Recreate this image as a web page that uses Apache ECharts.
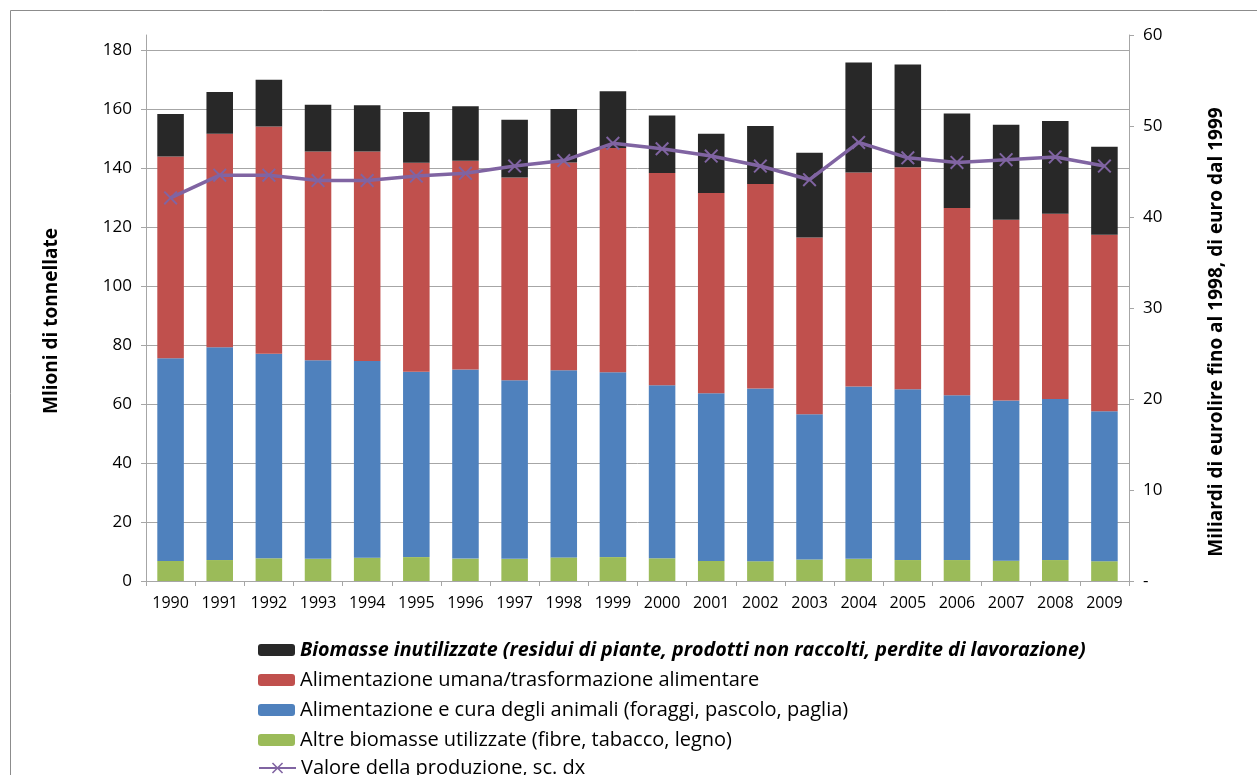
<!DOCTYPE html>
<html>
<head>
<meta charset="utf-8">
<script src="https://cdn.jsdelivr.net/npm/echarts@6/dist/echarts.min.js"></script>
<style>
  html, body { margin: 0; padding: 0; background: #fff; }
  #main { width: 1257px; height: 775px; }
</style>
</head>
<body>
<div id="main"></div>
<script>
// anni
var years = ['1990', '1991', '1992', '1993', '1994', '1995', '1996', '1997', '1998', '1999',
  '2000', '2001', '2002', '2003', '2004', '2005', '2006', '2007', '2008', '2009'];

// milioni di tonnellate, segmenti impilati
var altreBiomasse = [6.8, 7.1, 7.7, 7.5, 7.9, 8.1, 7.6, 7.5, 8.0, 8.1, 7.7, 6.8, 6.7, 7.3, 7.5, 7.1, 7.1, 6.9, 7.1, 6.7];
var animali = [68.7, 72.1, 69.3, 67.3, 66.6, 62.8, 64.1, 60.5, 63.4, 62.6, 58.6, 56.8, 58.5, 49.2, 58.4, 57.9, 55.8, 54.3, 54.6, 50.8];
var umana = [68.3, 72.3, 77.0, 70.7, 71.0, 70.8, 70.7, 68.7, 70.4, 76.0, 71.9, 67.9, 69.3, 59.9, 72.5, 75.2, 63.5, 61.2, 62.7, 59.8];
var inutilizzate = [14.4, 14.2, 15.8, 15.9, 15.7, 17.2, 18.5, 19.6, 18.1, 19.2, 19.5, 20.0, 19.7, 28.7, 37.3, 34.8, 32.0, 32.2, 31.5, 29.8];

// miliardi (scala destra)
var valoreProduzione = [42.1, 44.6, 44.6, 44.0, 44.0, 44.5, 44.8, 45.6, 46.2, 48.1, 47.5, 46.7, 45.6, 44.1, 48.2, 46.5, 46.0, 46.3, 46.6, 45.6];

var leftTicks = [0, 20, 40, 60, 80, 100, 120, 140, 160, 180];
var rightTicks = [0, 10, 20, 30, 40, 50, 60];

var names = [
  'Biomasse inutilizzate (residui di piante, prodotti non raccolti, perdite di lavorazione)',
  'Alimentazione umana/trasformazione alimentare',
  'Alimentazione e cura degli animali (foraggi, pascolo, paglia)',
  'Altre biomasse utilizzate (fibre, tabacco, legno)',
  'Valore della produzione, sc. dx'
];

var font = 'Open Sans';
var gridColor = '#a6a6a6';
var xMark = 'path://M0,1L1,0L5,4L9,0L10,1L6,5L10,9L9,10L5,6L1,10L0,9L4,5Z';

var chart = echarts.init(document.getElementById('main'), null, { renderer: 'canvas' });

var legendText = { fontFamily: font, fontSize: 20, color: '#000' };

var option = {
  backgroundColor: '#fff',
  animation: false,
  textStyle: { fontFamily: font },
  graphic: [
    {
      type: 'rect',
      shape: { x: 10.5, y: 10.5, width: 1300, height: 800 },
      style: { fill: 'none', stroke: '#8c8c8c', lineWidth: 1 },
      silent: true
    },
    {
      type: 'text',
      x: 52, y: 321,
      rotation: Math.PI / 2,
      style: {
        text: 'Mlioni di tonnellate',
        font: 'bold 19px "Open Sans"',
        fill: '#000',
        align: 'center',
        verticalAlign: 'middle'
      }
    },
    {
      type: 'text',
      x: 1217, y: 332,
      rotation: Math.PI / 2,
      style: {
        text: 'Miliardi di eurolire fino al 1998, di euro dal 1999',
        font: 'bold 19px "Open Sans"',
        fill: '#000',
        align: 'center',
        verticalAlign: 'middle'
      }
    }
  ],
  grid: {
    left: 146,
    right: 128,
    top: 35,
    bottom: 194,
    containLabel: false
  },
  legend: [
    {
      orient: 'vertical',
      left: 258,
      top: 640,
      padding: 0,
      itemWidth: 37,
      itemHeight: 12,
      itemGap: 10,
      textStyle: legendText,
      data: [
        { name: names[0], textStyle: { fontWeight: 'bold', fontStyle: 'italic', fontSize: 19.7 } },
        { name: names[1] },
        { name: names[2] },
        { name: names[3] }
      ]
    },
    {
      orient: 'vertical',
      left: 258,
      top: 758,
      padding: 0,
      itemWidth: 37,
      itemHeight: 14,
      textStyle: legendText,
      data: [names[4]]
    }
  ],
  xAxis: {
    type: 'category',
    data: years,
    axisLine: { lineStyle: { color: gridColor, width: 1 } },
    axisTick: { show: true, length: 5, lineStyle: { color: gridColor } },
    axisLabel: { color: '#000', fontSize: 16, margin: 14, interval: 0 },
    splitLine: { show: false }
  },
  yAxis: [
    {
      type: 'value',
      min: 0,
      max: 185,
      interval: 20,
      axisLine: { show: true, lineStyle: { color: gridColor } },
      axisTick: { show: true, length: 5, customValues: leftTicks, lineStyle: { color: gridColor } },
      axisLabel: { color: '#000', fontSize: 17, margin: 14, customValues: leftTicks },
      splitLine: { show: true, lineStyle: { color: gridColor, width: 1 } }
    },
    {
      type: 'value',
      min: 0,
      max: 60,
      interval: 10,
      position: 'right',
      axisLine: { show: true, lineStyle: { color: gridColor } },
      axisTick: { show: true, length: 5, lineStyle: { color: gridColor } },
      axisLabel: {
        color: '#000',
        fontSize: 17,
        margin: 14,
        customValues: rightTicks,
        formatter: function (v) { return v === 0 ? '-' : v; }
      },
      splitLine: { show: false }
    }
  ],
  series: [
    {
      name: names[3],
      type: 'bar',
      stack: 'tot',
      barCategoryGap: '46%',
      itemStyle: { color: '#9bbb59' },
      data: altreBiomasse
    },
    {
      name: names[2],
      type: 'bar',
      stack: 'tot',
      itemStyle: { color: '#4f81bd' },
      data: animali
    },
    {
      name: names[1],
      type: 'bar',
      stack: 'tot',
      itemStyle: { color: '#c0504d' },
      data: umana
    },
    {
      name: names[0],
      type: 'bar',
      stack: 'tot',
      itemStyle: { color: '#282828' },
      data: inutilizzate
    },
    {
      name: names[4],
      type: 'line',
      yAxisIndex: 1,
      z: 10,
      symbol: xMark,
      symbolSize: 14,
      showAllSymbol: true,
      lineStyle: { color: '#8064a2', width: 3.5 },
      itemStyle: { color: '#8064a2' },
      data: valoreProduzione
    }
  ]
};

chart.setOption(option);
</script>
</body>
</html>
